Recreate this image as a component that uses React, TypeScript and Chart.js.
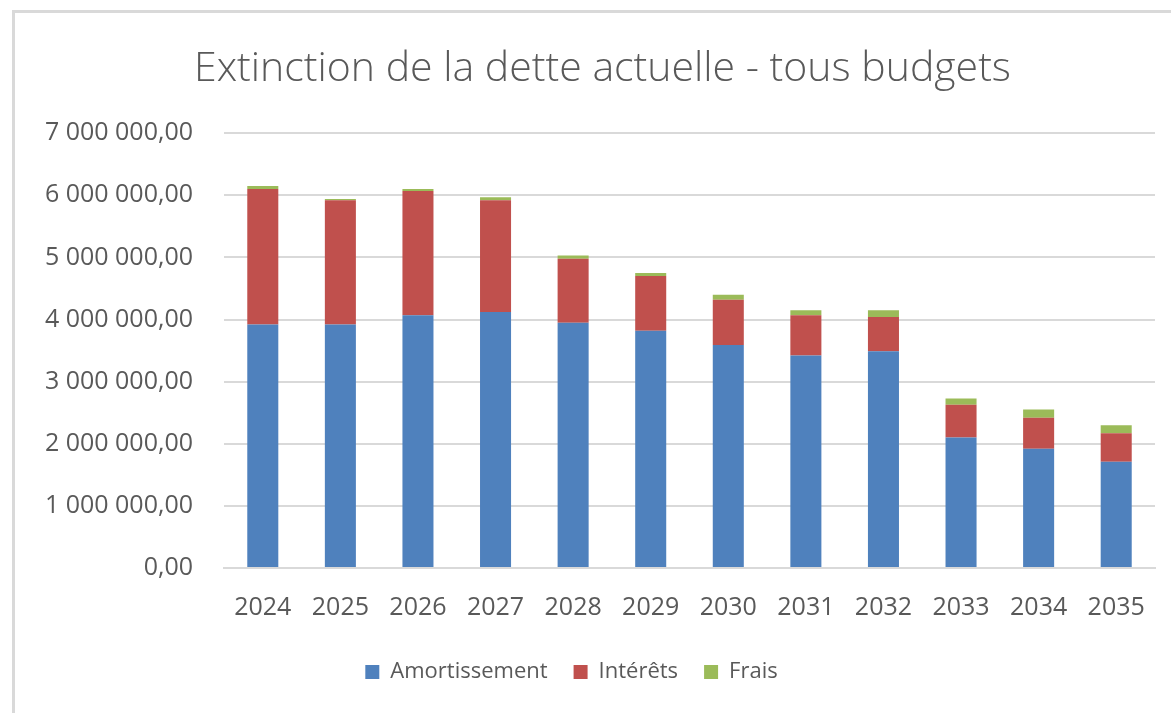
import React, { useEffect, useRef } from "react";
import { Chart, registerables } from "chart.js";

Chart.register(...registerables);

const categories = ["2024", "2025", "2026", "2027", "2028", "2029", "2030", "2031", "2032", "2033", "2034", "2035"];
const amortissement = [3920000, 3920000, 4070000, 4120000, 3950000, 3820000, 3590000, 3420000, 3490000, 2100000, 1920000, 1710000];
const interets = [2180000, 2000000, 2000000, 1800000, 1030000, 880000, 730000, 650000, 550000, 530000, 500000, 460000];
const frais = [50000, 20000, 30000, 50000, 50000, 50000, 80000, 80000, 110000, 100000, 130000, 130000];

const TEXT = "#595959";
const FONT = "'Open Sans', sans-serif";

function fmt(v: number): string {
  const fixed = Math.abs(v).toFixed(2);
  const [intPart, dec] = fixed.split(".");
  const grouped = intPart.replace(/\B(?=(\d{3})+(?!\d))/g, " ");
  return (v < 0 ? "-" : "") + grouped + "," + dec;
}

const shiftBlocks = {
  id: "shiftBlocks",
  afterLayout(chart: any) {
    if (chart.titleBlock) chart.titleBlock.left = 50;
    if (chart.legend) {
      chart.legend.left -= 6;
      chart.legend.right -= 6;
    }
  },
};

export default function App() {
  const ref = useRef<HTMLCanvasElement | null>(null);
  useEffect(() => {
    if (!ref.current) return;
    const chart = new Chart(ref.current, {
      type: "bar",
      plugins: [shiftBlocks],
      data: {
        labels: categories,
        datasets: [
          { label: "Amortissement", data: amortissement, backgroundColor: "#4F81BD", categoryPercentage: 0.4, barPercentage: 1 },
          { label: "Intérêts", data: interets, backgroundColor: "#C0504D", categoryPercentage: 0.4, barPercentage: 1 },
          { label: "Frais", data: frais, backgroundColor: "#9BBB59", categoryPercentage: 0.4, barPercentage: 1 },
        ],
      },
      options: {
        animation: false,
        responsive: false,
        maintainAspectRatio: false,
        layout: { padding: { left: 0, right: 16, top: 0, bottom: 20 } },
        plugins: {
          title: {
            display: true,
            text: "Extinction de la dette actuelle - tous budgets",
            color: TEXT,
            font: { family: FONT, size: 41, weight: "300" as any, lineHeight: 1.2 },
            padding: { top: 45, bottom: 39 },
          },
          legend: {
            position: "bottom",
            labels: {
              color: TEXT,
              font: { family: FONT, size: 22 },
              boxWidth: 14,
              boxHeight: 14,
              padding: 26,
            },
          },
          tooltip: { enabled: false },
        },
        scales: {
          x: {
            stacked: true,
            afterFit: (scale: any) => {
              scale.height = scale.height - 13;
            },
            grid: { display: false, drawTicks: false },
            border: { color: "#d9d9d9", width: 2 },
            ticks: { color: TEXT, font: { family: FONT, size: 25 }, padding: 25 },
          },
          y: {
            stacked: true,
            min: 0,
            max: 7000000,
            afterFit: (scale: any) => {
              scale.width = 224;
            },
            grid: { color: "#d9d9d9", lineWidth: 2, drawTicks: false },
            border: { display: false },
            ticks: {
              stepSize: 1000000,
              color: TEXT,
              font: { family: FONT, size: 25 },
              padding: 31,
              callback: (v: any) => fmt(Number(v)),
            },
          },
        },
      },
    });
    return () => chart.destroy();
  }, []);
  return (
    <div style={{ position: "absolute", left: 0, top: 0, width: 1171, height: 713, background: "#fff" }}>
      <div
        style={{
          position: "absolute",
          left: 12,
          top: 10,
          width: 1171,
          height: 713,
          borderLeft: "3px solid #d9d9d9",
          borderTop: "3px solid #d9d9d9",
          boxSizing: "border-box",
        }}
      />
      <canvas ref={ref} width={1171} height={713} style={{ position: "absolute", left: 0, top: 0 }} />
    </div>
  );
}
